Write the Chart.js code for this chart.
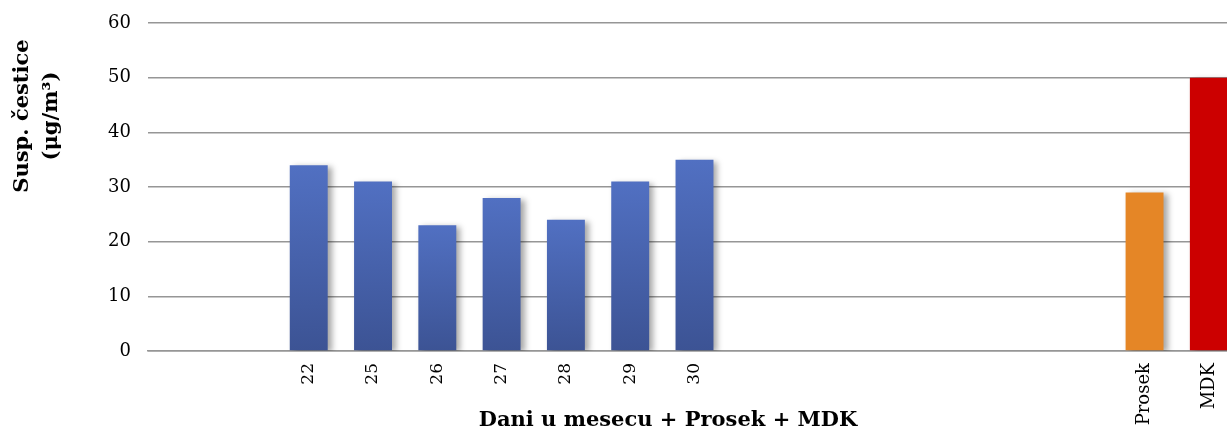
<!DOCTYPE html>
<html>
<head>
<meta charset="utf-8">
<script src="https://cdn.jsdelivr.net/npm/chart.js@4"></script>
<style>
  html, body { margin: 0; padding: 0; background: #fff; overflow: hidden; }
  #wrap { width: 1242px; height: 437px; position: relative; }
</style>
</head>
<body>
<div id="wrap"><canvas id="pmChart"></canvas></div>
<script>
// days measured, values in µg/m3
const days = ['22', '25', '26', '27', '28', '29', '30'];
const dayValues = [34, 31, 23, 28, 24, 31, 35];
const averageLabel = 'Prosek';
const averageValue = 29;
const limitLabel = 'MDK';
const limitValue = 50;
const yTicks = [0, 10, 20, 30, 40, 50, 60];
const yTitle = ['Susp. čestice', '(μg/m³)'];
const xTitle = 'Dani u mesecu + Prosek + MDK';

// empty slots before the days and between days and Prosek
const leadGap = 2;
const midGap = 6;

const labels = [];
const values = [];
for (let i = 0; i < leadGap; i++) { labels.push(''); values.push(null); }
days.forEach((d, i) => { labels.push(d); values.push(dayValues[i]); });
for (let i = 0; i < midGap; i++) { labels.push(''); values.push(null); }
labels.push(averageLabel); values.push(averageValue);
labels.push(limitLabel); values.push(limitValue);

const serif = "'DejaVu Serif', 'Liberation Serif', serif";

function barColor(ctx) {
    const label = labels[ctx.dataIndex];
    if (label === limitLabel) return '#cc0000';
    if (label === averageLabel) return '#e58626';
    const chart = ctx.chart;
    const v = ctx.raw;
    if (!chart.chartArea || v == null) return '#4a66b0';
    const top = chart.scales.y.getPixelForValue(v);
    const bottom = chart.scales.y.getPixelForValue(0);
    const g = chart.ctx.createLinearGradient(0, top, 0, bottom);
    g.addColorStop(0, '#5170c2');
    g.addColorStop(1, '#3c5394');
    return g;
}

const shadowPlugin = {
    id: 'barShadow',
    beforeDatasetsDraw(chart) {
        const c = chart.ctx;
        c.save();
        c.shadowColor = 'rgba(0,0,0,0.35)';
        c.shadowBlur = 6;
        c.shadowOffsetX = 4;
        c.shadowOffsetY = 2;
    },
    afterDatasetsDraw(chart) {
        chart.ctx.restore();
    }
};

// axis titles sit off-centre in the original, so they are drawn here
const titlesPlugin = {
    id: 'axisTitles',
    afterDraw(chart) {
        const c = chart.ctx;
        c.save();
        c.fillStyle = '#000';
        c.textAlign = 'center';
        c.textBaseline = 'middle';
        c.font = "bold 21px " + serif;
        c.fillText(xTitle, 668, 421);
        c.translate(0, 116);
        c.rotate(-Math.PI / 2);
        c.fillText(yTitle[0], 0, 23);
        c.fillText(yTitle[1], 0, 52);
        c.restore();
    }
};

new Chart(document.getElementById('pmChart'), {
    type: 'bar',
    data: {
        labels: labels,
        datasets: [{
            data: values,
            backgroundColor: barColor,
            borderWidth: 0,
            barPercentage: 0.59,
            categoryPercentage: 1.0
        }]
    },
    plugins: [shadowPlugin, titlesPlugin],
    options: {
        responsive: true,
        maintainAspectRatio: false,
        animation: false,
        devicePixelRatio: 1,
        layout: { padding: { left: 0, right: 1, top: 23, bottom: 0 } },
        plugins: {
            legend: { display: false },
            tooltip: { enabled: false }
        },
        scales: {
            x: {
                grid: { display: false, drawTicks: false },
                border: { color: '#969696', width: 1.5 },
                ticks: {
                    color: '#000',
                    font: (ctx) => ({ family: serif, size: labels[ctx.index] && labels[ctx.index].length > 2 ? 18 : 17 }),
                    padding: 12,
                    maxRotation: 90,
                    minRotation: 90,
                    autoSkip: false
                },
                afterFit(scale) {
                    scale.height = 86;
                    scale.paddingLeft = 0;
                    scale.paddingRight = 0;
                }
            },
            y: {
                min: 0,
                max: 60,
                afterBuildTicks(scale) { scale.ticks = yTicks.map(v => ({ value: v })); },
                grid: { color: '#969696', lineWidth: 1.5, drawTicks: false },
                border: { display: false },
                ticks: {
                    color: '#000',
                    font: { family: serif, size: 18 },
                    padding: 17
                },
                afterFit(scale) {
                    scale.width = 148;
                    scale.paddingTop = 0;
                    scale.paddingBottom = 0;
                }
            }
        }
    }
});
</script>
</body>
</html>
